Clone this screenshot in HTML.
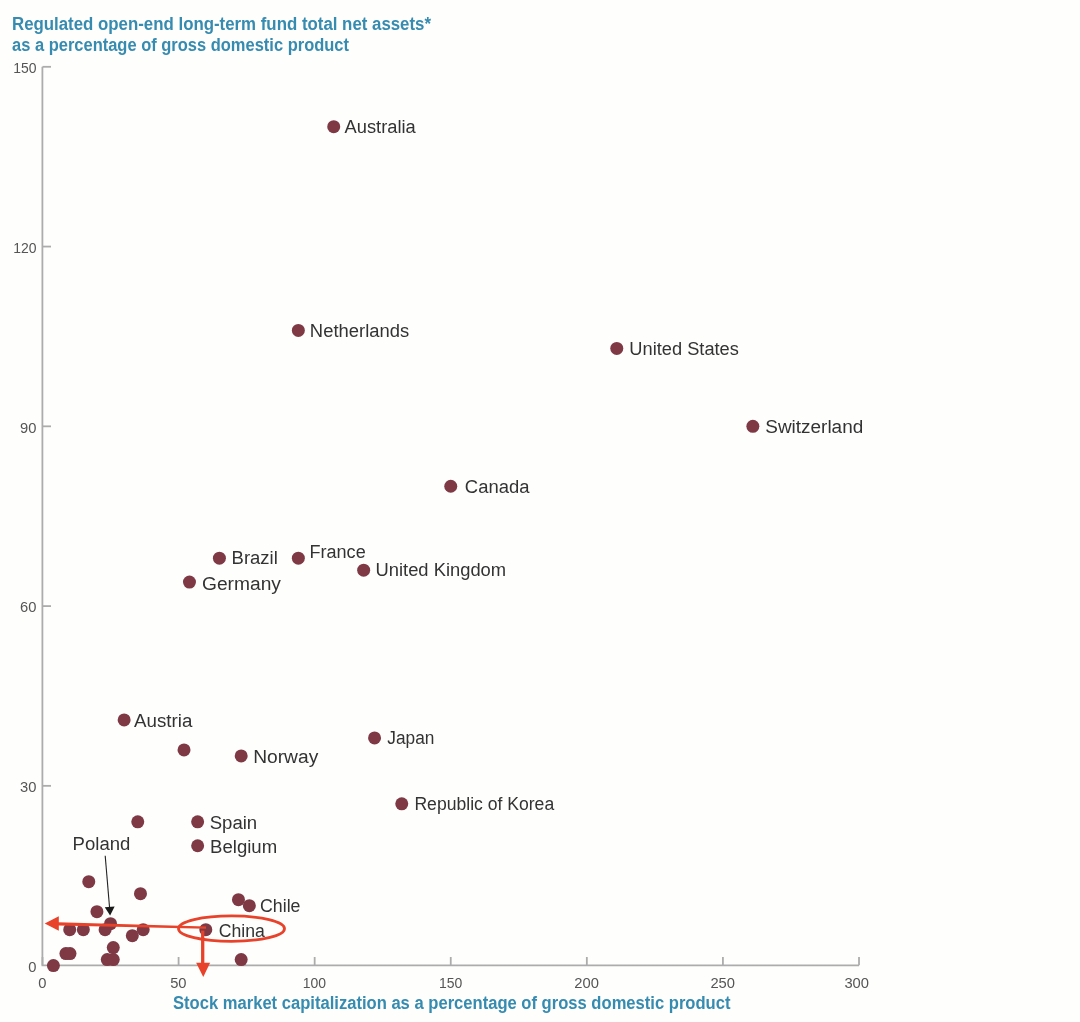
<!DOCTYPE html>
<html><head><meta charset="utf-8"><title>Chart</title>
<style>html,body{margin:0;padding:0;background:#fefefd;}svg{display:block;will-change:transform;filter:blur(0.6px)}text{font-family:"Liberation Sans",sans-serif;}</style></head><body>
<svg width="1080" height="1022" viewBox="0 0 1080 1022">
<rect width="1080" height="1022" fill="#fefefd"/>
<g fill="#368bb0" font-weight="bold" font-size="17.5px">
<text x="12" y="30" textLength="419" lengthAdjust="spacingAndGlyphs">Regulated open-end long-term fund total net assets*</text>
<text x="12" y="51" textLength="337" lengthAdjust="spacingAndGlyphs">as a percentage of gross domestic product</text>
<text x="173" y="1009" textLength="557.5" lengthAdjust="spacingAndGlyphs">Stock market capitalization as a percentage of gross domestic product</text>
</g>
<g stroke="#acacac" stroke-width="1.8" fill="none">
<path d="M42.40 66.80 V965.30 H859.01"/>
<path d="M42.50 785.84 h8.5"/>
<path d="M42.50 606.08 h8.5"/>
<path d="M42.50 426.32 h8.5"/>
<path d="M42.50 246.56 h8.5"/>
<path d="M42.50 66.80 h8.5"/>
<path d="M42.50 965.30 v-8.3"/>
<path d="M178.58 965.30 v-8.3"/>
<path d="M314.67 965.30 v-8.3"/>
<path d="M450.75 965.30 v-8.3"/>
<path d="M586.84 965.30 v-8.3"/>
<path d="M722.92 965.30 v-8.3"/>
<path d="M859.01 965.30 v-8.3"/>
</g>
<g fill="#555555" font-size="14.5px">
<text x="28.30" y="972" textLength="8.2" lengthAdjust="spacingAndGlyphs">0</text>
<text x="20.10" y="792" textLength="16.4" lengthAdjust="spacingAndGlyphs">30</text>
<text x="20.10" y="612" textLength="16.4" lengthAdjust="spacingAndGlyphs">60</text>
<text x="20.10" y="433" textLength="16.4" lengthAdjust="spacingAndGlyphs">90</text>
<text x="13.20" y="253" textLength="23.3" lengthAdjust="spacingAndGlyphs">120</text>
<text x="13.20" y="73" textLength="23.3" lengthAdjust="spacingAndGlyphs">150</text>
<text x="38.20" y="988" textLength="8.2" lengthAdjust="spacingAndGlyphs">0</text>
<text x="170.18" y="988" textLength="16.4" lengthAdjust="spacingAndGlyphs">50</text>
<text x="302.82" y="988" textLength="23.3" lengthAdjust="spacingAndGlyphs">100</text>
<text x="438.90" y="988" textLength="23.3" lengthAdjust="spacingAndGlyphs">150</text>
<text x="574.34" y="988" textLength="24.6" lengthAdjust="spacingAndGlyphs">200</text>
<text x="710.42" y="988" textLength="24.6" lengthAdjust="spacingAndGlyphs">250</text>
<text x="844.41" y="988" textLength="24.6" lengthAdjust="spacingAndGlyphs">300</text>
</g>
<g fill="#7e3945">
<circle cx="333.72" cy="126.72" r="6.50"/>
<circle cx="298.34" cy="330.45" r="6.50"/>
<circle cx="616.78" cy="348.42" r="6.50"/>
<circle cx="752.86" cy="426.32" r="6.50"/>
<circle cx="450.75" cy="486.24" r="6.50"/>
<circle cx="219.41" cy="558.14" r="6.50"/>
<circle cx="298.34" cy="558.14" r="6.50"/>
<circle cx="363.66" cy="570.13" r="6.50"/>
<circle cx="189.47" cy="582.11" r="6.50"/>
<circle cx="124.15" cy="719.93" r="6.50"/>
<circle cx="184.03" cy="749.89" r="6.50"/>
<circle cx="241.18" cy="755.88" r="6.50"/>
<circle cx="374.55" cy="737.90" r="6.50"/>
<circle cx="401.76" cy="803.82" r="6.50"/>
<circle cx="137.76" cy="821.79" r="6.50"/>
<circle cx="197.64" cy="821.79" r="6.50"/>
<circle cx="197.64" cy="845.76" r="6.50"/>
<circle cx="88.77" cy="881.71" r="6.50"/>
<circle cx="140.48" cy="893.70" r="6.50"/>
<circle cx="238.46" cy="899.69" r="6.50"/>
<circle cx="249.35" cy="905.68" r="6.50"/>
<circle cx="96.93" cy="911.67" r="6.50"/>
<circle cx="110.54" cy="923.66" r="6.50"/>
<circle cx="69.72" cy="929.65" r="6.50"/>
<circle cx="83.33" cy="929.65" r="6.50"/>
<circle cx="105.10" cy="929.65" r="6.50"/>
<circle cx="143.20" cy="929.65" r="6.50"/>
<circle cx="132.32" cy="935.64" r="6.50"/>
<circle cx="205.80" cy="929.65" r="6.50"/>
<circle cx="113.26" cy="947.62" r="6.50"/>
<circle cx="65.91" cy="953.62" r="6.50"/>
<circle cx="69.99" cy="953.62" r="6.50"/>
<circle cx="107.28" cy="959.61" r="6.50"/>
<circle cx="113.26" cy="959.61" r="6.50"/>
<circle cx="241.18" cy="959.61" r="6.50"/>
<circle cx="53.39" cy="965.60" r="6.50"/>
</g>
<g fill="#333333" font-size="18px">
<text x="344.60" y="133" textLength="71.18" lengthAdjust="spacingAndGlyphs">Australia</text>
<text x="309.89" y="337" textLength="99.27" lengthAdjust="spacingAndGlyphs">Netherlands</text>
<text x="629.34" y="355" textLength="109.55" lengthAdjust="spacingAndGlyphs">United States</text>
<text x="765.28" y="433" textLength="97.97" lengthAdjust="spacingAndGlyphs">Switzerland</text>
<text x="464.87" y="493" textLength="64.60" lengthAdjust="spacingAndGlyphs">Canada</text>
<text x="231.63" y="564" textLength="46.20" lengthAdjust="spacingAndGlyphs">Brazil</text>
<text x="309.50" y="558" textLength="56.20" lengthAdjust="spacingAndGlyphs">France</text>
<text x="375.56" y="576" textLength="130.52" lengthAdjust="spacingAndGlyphs">United Kingdom</text>
<text x="202.03" y="590" textLength="78.92" lengthAdjust="spacingAndGlyphs">Germany</text>
<text x="134.07" y="727" textLength="58.25" lengthAdjust="spacingAndGlyphs">Austria</text>
<text x="253.16" y="763" textLength="65.13" lengthAdjust="spacingAndGlyphs">Norway</text>
<text x="387.36" y="744" textLength="47.06" lengthAdjust="spacingAndGlyphs">Japan</text>
<text x="414.43" y="810" textLength="139.74" lengthAdjust="spacingAndGlyphs">Republic of Korea</text>
<text x="209.69" y="829" textLength="47.53" lengthAdjust="spacingAndGlyphs">Spain</text>
<text x="210.11" y="853" textLength="67.04" lengthAdjust="spacingAndGlyphs">Belgium</text>
<text x="260.02" y="912" textLength="40.46" lengthAdjust="spacingAndGlyphs">Chile</text>
<text x="218.78" y="937" textLength="46.09" lengthAdjust="spacingAndGlyphs">China</text>
<text x="72.62" y="850" textLength="57.68" lengthAdjust="spacingAndGlyphs">Poland</text>
</g>
<path d="M105.2 855.8 L109.6 908" stroke="#222" stroke-width="1.1" fill="none"/>
<path d="M104.8 907.2 L114.6 906.6 L110.1 915.6 Z" fill="#1a1a1a"/>
<g stroke="#e8432a" fill="none">
<ellipse cx="231.5" cy="928.65" rx="53" ry="12.7" stroke-width="2.8"/>
<path d="M202.7 930.6 V964" stroke-width="3.3"/>
</g>
<g fill="#e8432a">
<path d="M58 922.3 L206 926.45 L206 928.85 L58 925.6 Z"/>
<path d="M44.7 923.4 L58.8 916.2 L58.8 930.7 Z"/>
<path d="M203.3 976.9 L196.1 962.8 L210.1 962.8 Z"/>
</g>
</svg></body></html>
